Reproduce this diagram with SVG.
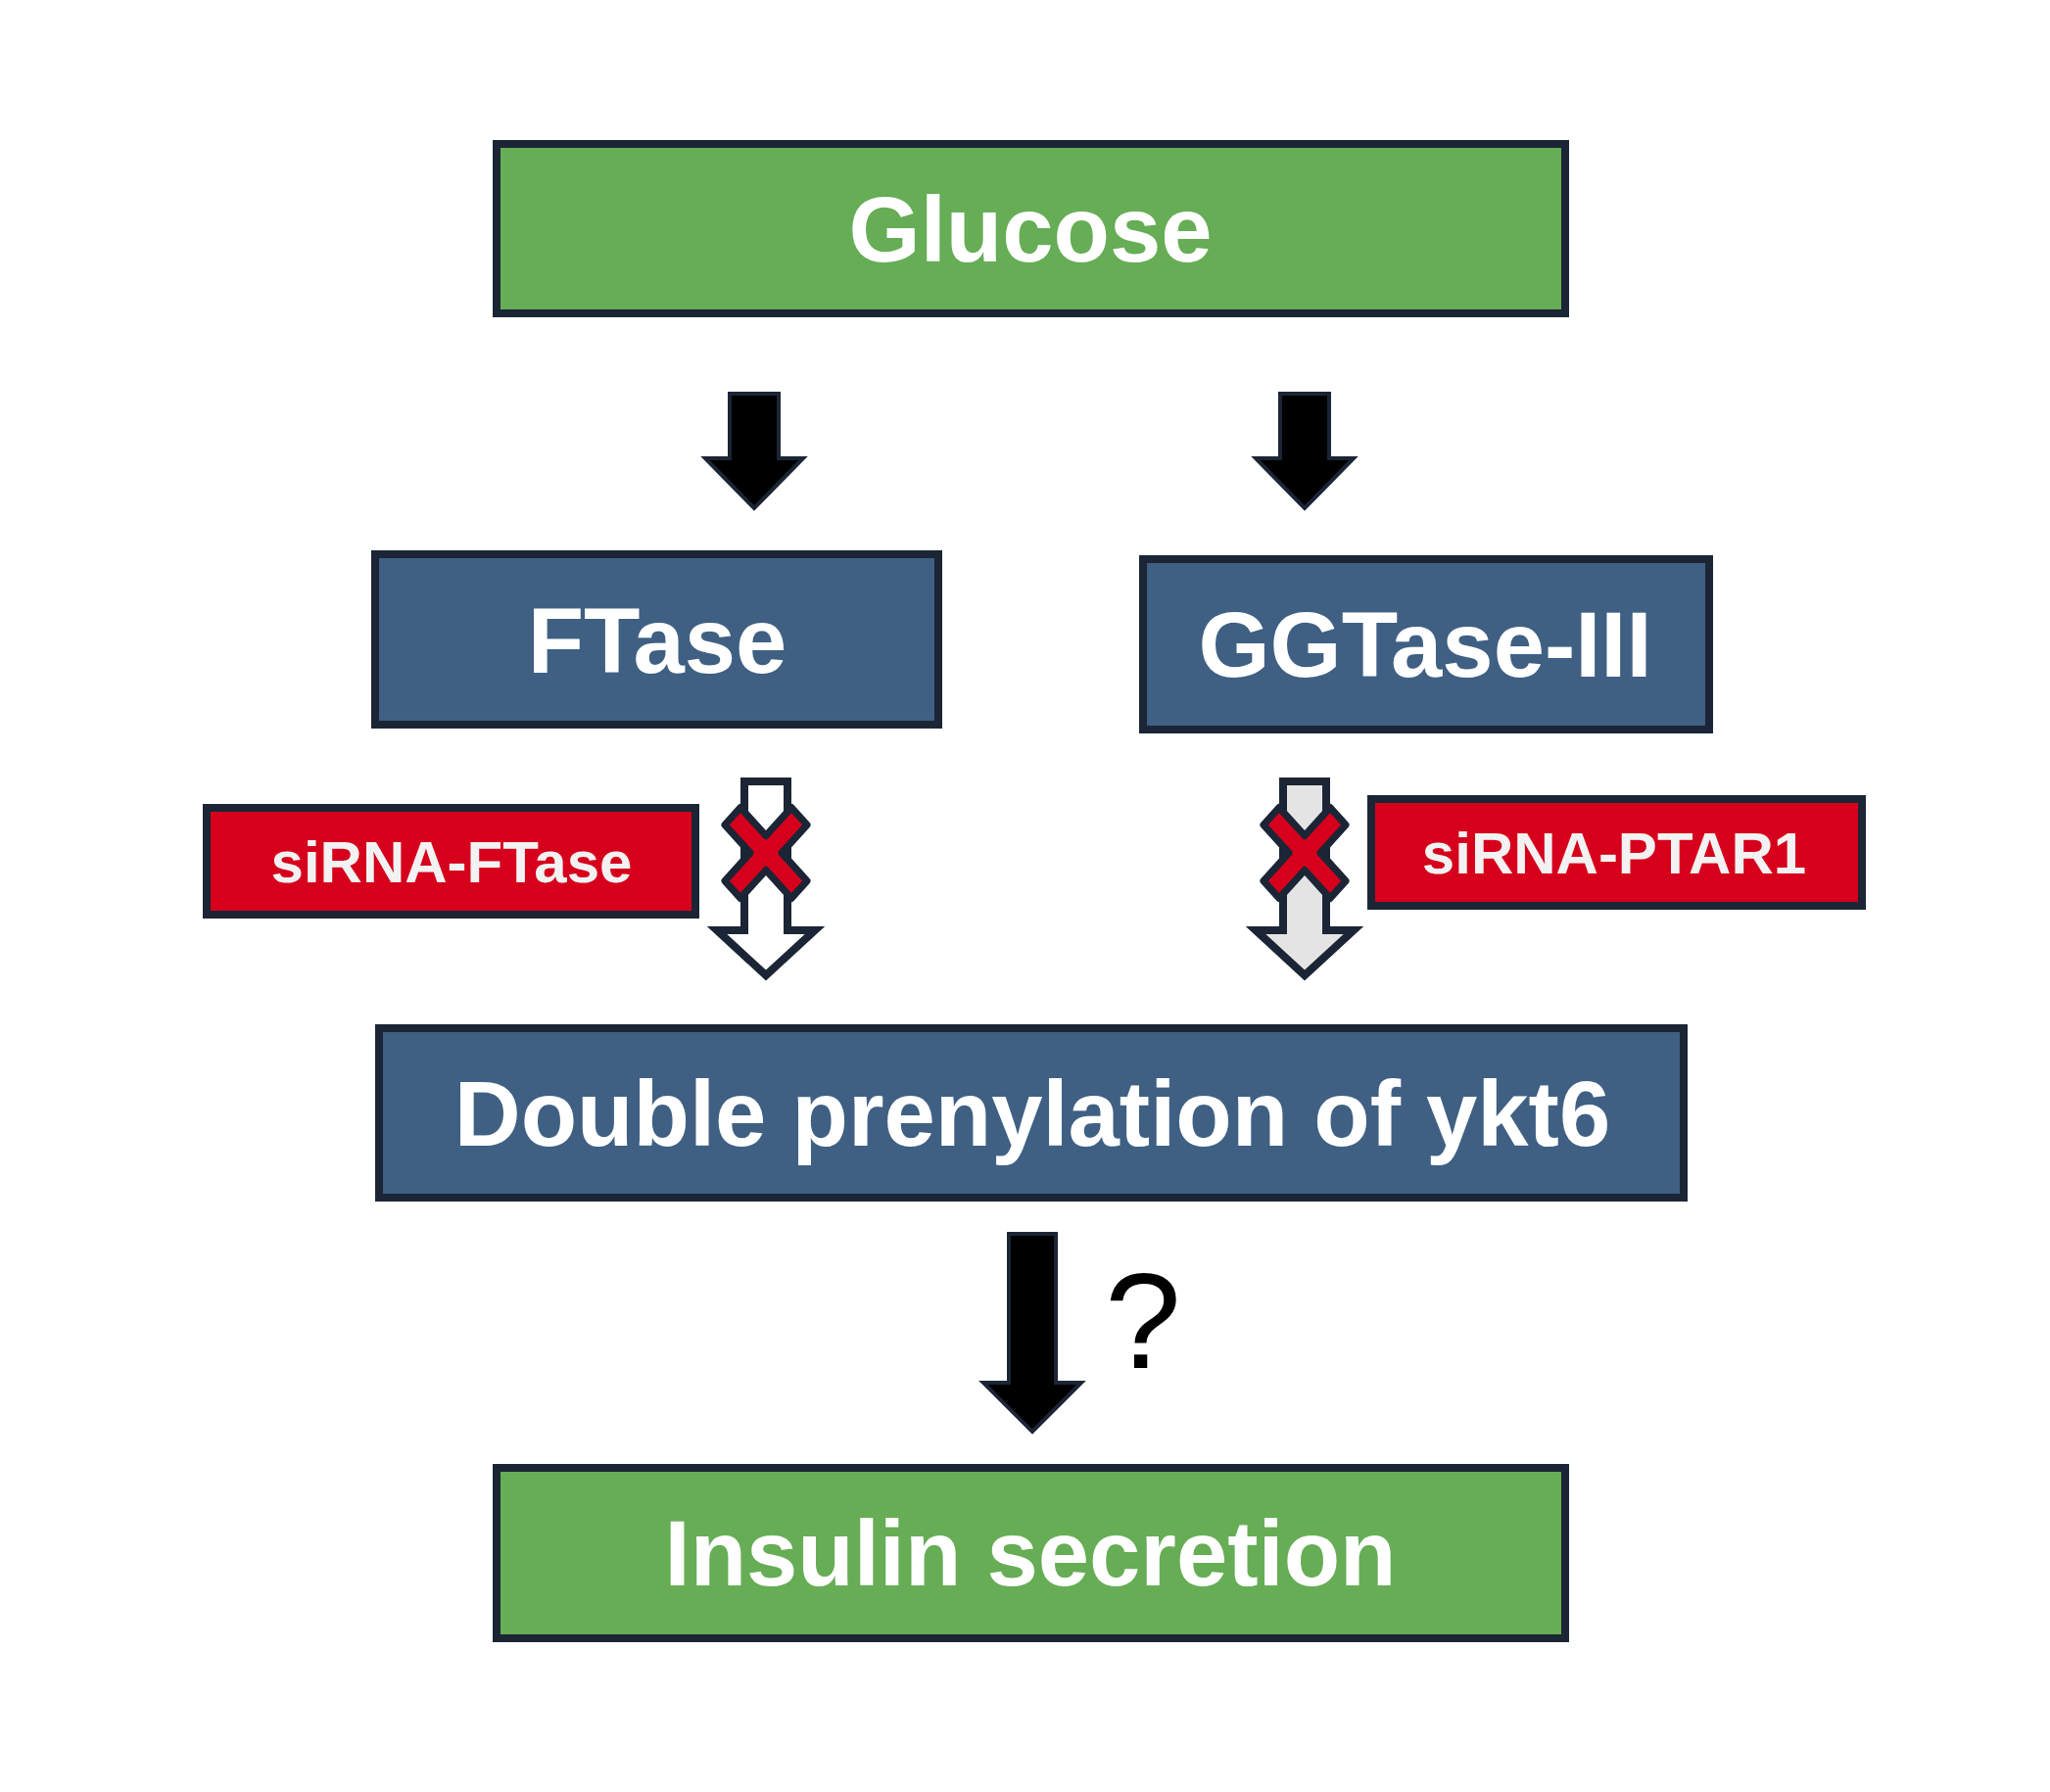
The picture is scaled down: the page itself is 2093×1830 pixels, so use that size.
<svg xmlns="http://www.w3.org/2000/svg" width="2093" height="1830" viewBox="0 0 2093 1830">
  <style>
    .box { stroke: #1b2535; stroke-width: 8; }
    .green { fill: #66ad56; }
    .blue { fill: #3f6083; }
    .red { fill: #d6001c; }
    .lbl { font-family: "Liberation Sans", Arial, sans-serif; font-weight: bold; fill: #ffffff; text-anchor: middle; dominant-baseline: central; }
    .big { font-size: 94px; }
    .small { font-size: 60px; fill: #f2f2f2; }
    .solid { fill: #000000; stroke: #1b2535; stroke-width: 4; stroke-linejoin: miter; }
    .hollow { stroke: #1b2535; stroke-width: 8; stroke-linejoin: miter; }
    .xmark { fill: #d6001c; stroke: #1b2535; stroke-width: 7; stroke-linejoin: round; }
    .q { font-family: "Liberation Sans", Arial, sans-serif; font-size: 140px; fill: #000000; text-anchor: middle; }
  </style>
  <defs>
    <polygon id="xshape" points="-42,-26 -26,-42 0,-16 26,-42 42,-26 16,0 42,26 26,42 0,16 -26,42 -42,26 -16,0"/>
  </defs>
  <rect width="2093" height="1830" fill="#ffffff"/>

  <g id="connectors">
    <path class="solid" d="M745,402 H795 V468 H820 L770,519 L720,468 H745 Z"/>
    <path class="solid" d="M1307,402 H1357 V468 H1382 L1332,519 L1282,468 H1307 Z"/>
    <path class="hollow" fill="#ffffff" d="M760,798 H804 V950 H832 L782,996 L732,950 H760 Z"/>
    <path class="hollow" fill="#e4e4e4" d="M1310,798 H1354 V950 H1382 L1332,996 L1282,950 H1310 Z"/>
    <path class="solid" d="M1030,1260 H1078 V1412 H1104 L1054,1462 L1004,1412 H1030 Z"/>
  </g>

  <g id="inhibition-marks">
    <use href="#xshape" class="xmark" transform="translate(782,871) scale(1,1.1)"/>
    <use href="#xshape" class="xmark" transform="translate(1332,871) scale(1,1.1)"/>
  </g>

  <g id="node-glucose">
    <rect class="box green" x="507" y="147" width="1091" height="173"/>
    <text class="lbl big" x="1052" y="234">Glucose</text>
  </g>

  <g id="node-ftase">
    <rect class="box blue" x="383" y="566" width="575" height="174"/>
    <text class="lbl big" x="671" y="654">FTase</text>
  </g>

  <g id="node-ggtase">
    <rect class="box blue" x="1167" y="571" width="578" height="174"/>
    <text class="lbl big" x="1455" y="658">GGTase-III</text>
  </g>

  <g id="node-sirna-ftase">
    <rect class="box red" x="211" y="825" width="499" height="109"/>
    <text class="lbl small" x="461" y="880">siRNA-FTase</text>
  </g>

  <g id="node-sirna-ptar1">
    <rect class="box red" x="1400" y="816" width="501" height="109"/>
    <text class="lbl small" x="1648" y="871">siRNA-PTAR1</text>
  </g>

  <g id="node-prenylation">
    <rect class="box blue" x="387" y="1050" width="1332" height="173"/>
    <text class="lbl big" x="1054" y="1137">Double prenylation of ykt6</text>
  </g>

  <g id="node-question">
    <text class="q" x="1167" y="1397">?</text>
  </g>

  <g id="node-insulin">
    <rect class="box green" x="507" y="1499" width="1091" height="174"/>
    <text class="lbl big" x="1052" y="1586">Insulin secretion</text>
  </g>
</svg>
